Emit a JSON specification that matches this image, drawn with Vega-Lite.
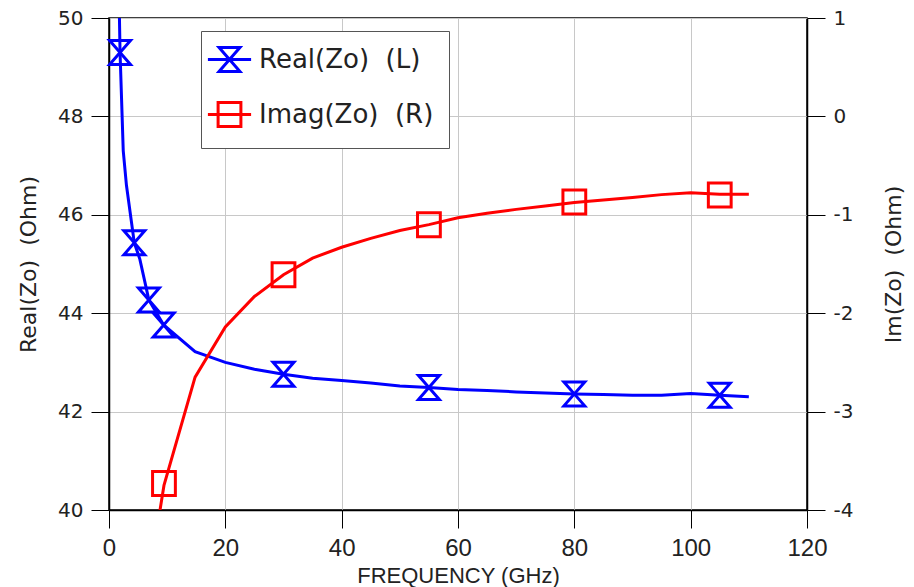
{
  "$schema": "https://vega.github.io/schema/vega-lite/v6.json",
  "width": 698,
  "height": 492,
  "autosize": "none",
  "padding": {"left": 109, "top": 18, "right": 107, "bottom": 77},
  "background": "white",
  "datasets": {
    "realLine": [
      {"freq": 1.75, "value": 50.3, "series": "Real(Zo)\u00a0 (L)"},
      {"freq": 1.9, "value": 49.3, "series": "Real(Zo)\u00a0 (L)"},
      {"freq": 2.45, "value": 47.3, "series": "Real(Zo)\u00a0 (L)"},
      {"freq": 3.0, "value": 46.6, "series": "Real(Zo)\u00a0 (L)"},
      {"freq": 4.35, "value": 45.43, "series": "Real(Zo)\u00a0 (L)"},
      {"freq": 5.3, "value": 45.1, "series": "Real(Zo)\u00a0 (L)"},
      {"freq": 6.85, "value": 44.27, "series": "Real(Zo)\u00a0 (L)"},
      {"freq": 9.4, "value": 43.76, "series": "Real(Zo)\u00a0 (L)"},
      {"freq": 14.8, "value": 43.22, "series": "Real(Zo)\u00a0 (L)"},
      {"freq": 20, "value": 43.0, "series": "Real(Zo)\u00a0 (L)"},
      {"freq": 25, "value": 42.86, "series": "Real(Zo)\u00a0 (L)"},
      {"freq": 30, "value": 42.76, "series": "Real(Zo)\u00a0 (L)"},
      {"freq": 35, "value": 42.68, "series": "Real(Zo)\u00a0 (L)"},
      {"freq": 40, "value": 42.63, "series": "Real(Zo)\u00a0 (L)"},
      {"freq": 45, "value": 42.58, "series": "Real(Zo)\u00a0 (L)"},
      {"freq": 50, "value": 42.52, "series": "Real(Zo)\u00a0 (L)"},
      {"freq": 55, "value": 42.49, "series": "Real(Zo)\u00a0 (L)"},
      {"freq": 60, "value": 42.45, "series": "Real(Zo)\u00a0 (L)"},
      {"freq": 65, "value": 42.43, "series": "Real(Zo)\u00a0 (L)"},
      {"freq": 70, "value": 42.4, "series": "Real(Zo)\u00a0 (L)"},
      {"freq": 75, "value": 42.38, "series": "Real(Zo)\u00a0 (L)"},
      {"freq": 80, "value": 42.36, "series": "Real(Zo)\u00a0 (L)"},
      {"freq": 85, "value": 42.35, "series": "Real(Zo)\u00a0 (L)"},
      {"freq": 90, "value": 42.33, "series": "Real(Zo)\u00a0 (L)"},
      {"freq": 95, "value": 42.33, "series": "Real(Zo)\u00a0 (L)"},
      {"freq": 100, "value": 42.37, "series": "Real(Zo)\u00a0 (L)"},
      {"freq": 105, "value": 42.33, "series": "Real(Zo)\u00a0 (L)"},
      {"freq": 110, "value": 42.3, "series": "Real(Zo)\u00a0 (L)"}
    ],
    "realMarkers": [
      {"freq": 1.9, "value": 49.3, "series": "Real(Zo)\u00a0 (L)"},
      {"freq": 4.35, "value": 45.43, "series": "Real(Zo)\u00a0 (L)"},
      {"freq": 6.85, "value": 44.27, "series": "Real(Zo)\u00a0 (L)"},
      {"freq": 9.4, "value": 43.76, "series": "Real(Zo)\u00a0 (L)"},
      {"freq": 30, "value": 42.76, "series": "Real(Zo)\u00a0 (L)"},
      {"freq": 55, "value": 42.49, "series": "Real(Zo)\u00a0 (L)"},
      {"freq": 80, "value": 42.36, "series": "Real(Zo)\u00a0 (L)"},
      {"freq": 105, "value": 42.33, "series": "Real(Zo)\u00a0 (L)"}
    ],
    "imagLine": [
      {"freq": 8.5, "value": -4.1, "series": "Imag(Zo)\u00a0 (R)"},
      {"freq": 9.45, "value": -3.75, "series": "Imag(Zo)\u00a0 (R)"},
      {"freq": 14.8, "value": -2.65, "series": "Imag(Zo)\u00a0 (R)"},
      {"freq": 20, "value": -2.14, "series": "Imag(Zo)\u00a0 (R)"},
      {"freq": 25, "value": -1.83, "series": "Imag(Zo)\u00a0 (R)"},
      {"freq": 30, "value": -1.61, "series": "Imag(Zo)\u00a0 (R)"},
      {"freq": 35, "value": -1.44, "series": "Imag(Zo)\u00a0 (R)"},
      {"freq": 40, "value": -1.33, "series": "Imag(Zo)\u00a0 (R)"},
      {"freq": 45, "value": -1.24, "series": "Imag(Zo)\u00a0 (R)"},
      {"freq": 50, "value": -1.16, "series": "Imag(Zo)\u00a0 (R)"},
      {"freq": 55, "value": -1.1, "series": "Imag(Zo)\u00a0 (R)"},
      {"freq": 60, "value": -1.03, "series": "Imag(Zo)\u00a0 (R)"},
      {"freq": 65, "value": -0.985, "series": "Imag(Zo)\u00a0 (R)"},
      {"freq": 70, "value": -0.945, "series": "Imag(Zo)\u00a0 (R)"},
      {"freq": 75, "value": -0.91, "series": "Imag(Zo)\u00a0 (R)"},
      {"freq": 80, "value": -0.875, "series": "Imag(Zo)\u00a0 (R)"},
      {"freq": 85, "value": -0.85, "series": "Imag(Zo)\u00a0 (R)"},
      {"freq": 90, "value": -0.825, "series": "Imag(Zo)\u00a0 (R)"},
      {"freq": 95, "value": -0.795, "series": "Imag(Zo)\u00a0 (R)"},
      {"freq": 100, "value": -0.775, "series": "Imag(Zo)\u00a0 (R)"},
      {"freq": 105, "value": -0.79, "series": "Imag(Zo)\u00a0 (R)"},
      {"freq": 110, "value": -0.79, "series": "Imag(Zo)\u00a0 (R)"}
    ],
    "imagMarkers": [
      {"freq": 9.45, "value": -3.73, "series": "Imag(Zo)\u00a0 (R)"},
      {"freq": 30, "value": -1.61, "series": "Imag(Zo)\u00a0 (R)"},
      {"freq": 55, "value": -1.1, "series": "Imag(Zo)\u00a0 (R)"},
      {"freq": 80, "value": -0.87, "series": "Imag(Zo)\u00a0 (R)"},
      {"freq": 105, "value": -0.8, "series": "Imag(Zo)\u00a0 (R)"}
    ]
  },
  "encoding": {
    "x": {
      "field": "freq",
      "type": "quantitative",
      "scale": {"domain": [0, 120], "nice": false},
      "axis": {
        "title": "FREQUENCY (GHz)",
        "values": [0, 20, 40, 60, 80, 100, 120],
        "grid": true,
        "tickSize": 18,
        "labelPadding": 8,
        "labelFont": "Liberation Sans",
        "labelFontSize": 24,
        "titleFont": "Liberation Sans",
        "titleFontSize": 22,
        "titlePadding": 5
      }
    },
    "color": {
      "field": "series",
      "type": "nominal",
      "scale": {"domain": ["Real(Zo)\u00a0 (L)", "Imag(Zo)\u00a0 (R)"], "range": ["#0000ff", "#ff0000"]},
      "legend": {
        "title": null,
        "orient": "none",
        "legendX": 92,
        "legendY": 13,
        "padding": 15,
        "rowPadding": 18,
        "symbolSize": 576,
        "symbolStrokeWidth": 3,
        "symbolOpacity": 1,
        "symbolFillColor": "transparent",
        "labelOffset": 16,
        "labelLimit": 0,
        "labelFont": "DejaVu Sans",
        "labelFontSize": 26,
        "labelColor": "#222222",
        "strokeColor": "#555555",
        "fillColor": "white",
        "cornerRadius": 0
      }
    }
  },
  "layer": [
    {
      "encoding": {
        "y": {
          "field": "value",
          "type": "quantitative",
          "scale": {"domain": [40, 50], "nice": false, "zero": false},
          "axis": {
            "orient": "left",
            "title": "Real(Zo)\u00a0 (Ohm)",
            "values": [40, 42, 44, 46, 48, 50],
            "grid": true,
            "tickSize": 18,
            "labelPadding": 8,
            "titlePadding": 17,
            "labelFont": "DejaVu Sans",
            "labelFontSize": 20,
            "titleFont": "DejaVu Sans",
            "titleFontSize": 22
          }
        }
      },
      "layer": [
        {
          "data": {"name": "realLine"},
          "mark": {"type": "line", "strokeWidth": 3, "clip": true}
        },
        {
          "data": {"name": "realMarkers"},
          "mark": {"type": "point", "filled": false, "size": 576, "strokeWidth": 3, "opacity": 1, "shape": "M-0.87,-1H0.87L-0.87,1H0.87Z"}
        },
        {
          "data": {"name": "realMarkers"},
          "mark": {"type": "point", "filled": false, "size": 576, "strokeWidth": 3, "opacity": 0},
          "encoding": {
            "shape": {
              "field": "series",
              "type": "nominal",
              "scale": {"domain": ["Real(Zo)\u00a0 (L)", "Imag(Zo)\u00a0 (R)"], "range": ["M-1.8,0H1.8M-0.87,-1H0.87L-0.87,1H0.87Z", "M-1.8,0H1.8M-0.95,-1H0.95V1H-0.95Z"]},
              "legend": {
                "title": null,
                "orient": "none",
                "legendX": 92,
                "legendY": 13,
                "padding": 15,
                "rowPadding": 18,
                "symbolSize": 576,
                "symbolStrokeWidth": 3,
                "symbolOpacity": 1,
                "symbolFillColor": "transparent",
                "labelOffset": 16,
                "labelLimit": 0,
                "labelFont": "DejaVu Sans",
                "labelFontSize": 26,
                "labelColor": "#222222",
                "strokeColor": "#555555",
                "fillColor": "white",
                "cornerRadius": 0
              }
            }
          }
        }
      ]
    },
    {
      "encoding": {
        "y": {
          "field": "value",
          "type": "quantitative",
          "scale": {"domain": [-4, 1], "nice": false, "zero": false},
          "axis": {
            "orient": "right",
            "title": "Im(Zo)\u00a0 (Ohm)",
            "values": [-4, -3, -2, -1, 0, 1],
            "labelExpr": "replace(datum.label, '\u2212', '-')",
            "grid": false,
            "tickSize": 18,
            "labelPadding": 8,
            "titlePadding": 31,
            "titleAngle": 270,
            "titleBaseline": "top",
            "labelFont": "DejaVu Sans",
            "labelFontSize": 20,
            "titleFont": "DejaVu Sans",
            "titleFontSize": 22
          }
        }
      },
      "layer": [
        {
          "data": {"name": "imagLine"},
          "mark": {"type": "line", "strokeWidth": 3, "clip": true}
        },
        {
          "data": {"name": "imagMarkers"},
          "mark": {"type": "point", "filled": false, "size": 576, "strokeWidth": 3, "opacity": 1, "shape": "M-0.95,-1H0.95V1H-0.95Z"}
        }
      ]
    }
  ],
  "resolve": {"scale": {"y": "independent"}},
  "config": {
    "view": {"stroke": "black", "strokeWidth": 1.5},
    "axis": {
      "domainColor": "black",
      "domainWidth": 1.5,
      "tickColor": "black",
      "tickWidth": 1,
      "gridColor": "#c8c8c8",
      "gridWidth": 1,
      "labelColor": "#222222",
      "titleColor": "#222222",
      "titleFontWeight": "normal",
      "labelFlush": false,
      "labelOverlap": false
    }
  }
}
